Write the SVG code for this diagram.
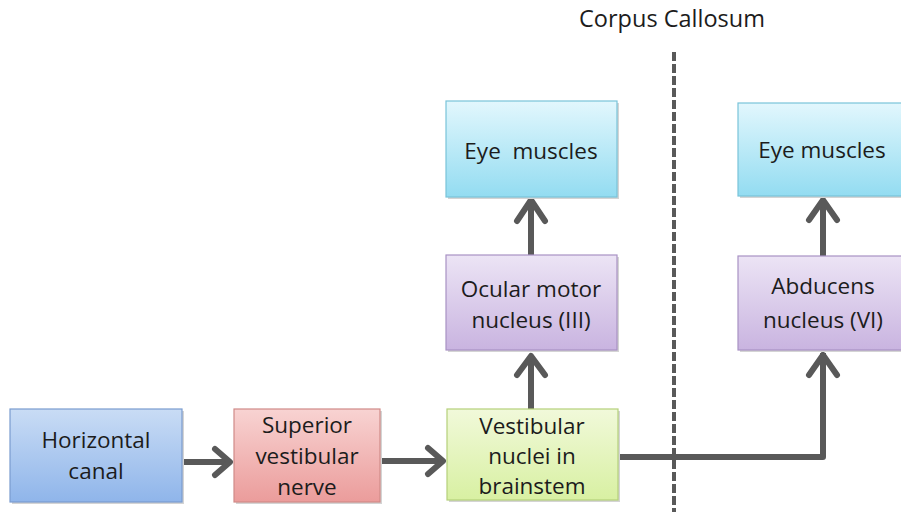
<svg xmlns="http://www.w3.org/2000/svg" width="901" height="512" viewBox="0 0 901 512">
<defs>
<linearGradient id="gBlue" x1="0" y1="0" x2="0" y2="1"><stop offset="0" stop-color="#c9dcf5"/><stop offset="1" stop-color="#8fb5ea"/></linearGradient>
<linearGradient id="gRed" x1="0" y1="0" x2="0" y2="1"><stop offset="0" stop-color="#f8d3d2"/><stop offset="1" stop-color="#eb9c9b"/></linearGradient>
<linearGradient id="gGreen" x1="0" y1="0" x2="0" y2="1"><stop offset="0" stop-color="#f1f9da"/><stop offset="1" stop-color="#d8f0a2"/></linearGradient>
<linearGradient id="gPurple" x1="0" y1="0" x2="0" y2="1"><stop offset="0" stop-color="#ece4f5"/><stop offset="1" stop-color="#c9b4e0"/></linearGradient>
<linearGradient id="gCyan" x1="0" y1="0" x2="0" y2="1"><stop offset="0" stop-color="#e2f7fd"/><stop offset="1" stop-color="#93dcf1"/></linearGradient>
</defs>
<style>
text{font-family:"Open Sans","Liberation Sans",sans-serif;font-size:22.5px;fill:#1c1c1c;text-anchor:middle}
.box{stroke-width:1.2}
.sh{fill:#d4d4d4}
.conn{fill:none;stroke:#595959;stroke-width:6;stroke-linejoin:round}
.head{fill:none;stroke:#595959;stroke-width:6;stroke-linecap:round;stroke-linejoin:round}
</style>
<rect width="901" height="512" fill="#ffffff"/>
<g id="corpus-callosum">
<text x="672" y="27" style="font-size:23.5px">Corpus Callosum</text>
<line x1="674" y1="52" x2="674" y2="512" stroke="#595959" stroke-width="4" stroke-dasharray="9 3"/>
</g>
<g id="connectors">
<path class="conn" d="M182 462 H229"/>
<path class="head" d="M215 449 L230 462 L215 475"/>
<path class="conn" d="M380 461 H442"/>
<path class="head" d="M428 448 L443 461 L428 474"/>
<path class="conn" d="M531 409 V356"/>
<path class="head" d="M517 375 L531 356 L545 375"/>
<path class="conn" d="M531 255 V199"/>
<path class="head" d="M517 221 L531 200 L545 221"/>
<path class="conn" d="M618 457 H823 V353"/>
<path class="head" d="M809 375 L823 355 L837 375"/>
<path class="conn" d="M823 256 V200"/>
<path class="head" d="M809 220 L823 200 L837 220"/>
</g>
<g id="horizontal-canal">
<rect class="sh" x="12" y="411" width="172" height="93"/>
<rect class="box" x="10" y="409" width="172" height="93" fill="url(#gBlue)" stroke="#7a9ccf"/>
<text x="96" y="448">Horizontal</text>
<text x="96" y="479">canal</text>
</g>
<g id="superior-vestibular-nerve">
<rect class="sh" x="236" y="411" width="146" height="93"/>
<rect class="box" x="234" y="409" width="146" height="93" fill="url(#gRed)" stroke="#d08a88"/>
<text x="307" y="433">Superior</text>
<text x="307" y="464">vestibular</text>
<text x="307" y="495">nerve</text>
</g>
<g id="vestibular-nuclei">
<rect class="sh" x="449" y="411" width="171" height="91"/>
<rect class="box" x="447" y="409" width="171" height="91" fill="url(#gGreen)" stroke="#b5d07a"/>
<text x="532" y="434">Vestibular</text>
<text x="532" y="464">nuclei in</text>
<text x="532" y="494">brainstem</text>
</g>
<g id="ocular-motor-nucleus">
<rect class="sh" x="448" y="257" width="171" height="95"/>
<rect class="box" x="446" y="255" width="171" height="95" fill="url(#gPurple)" stroke="#a892c4"/>
<text x="531" y="297">Ocular motor</text>
<text x="531" y="328">nucleus (III)</text>
</g>
<g id="eye-muscles-left">
<rect class="sh" x="448" y="103" width="171" height="96"/>
<rect class="box" x="446" y="101" width="171" height="96" fill="url(#gCyan)" stroke="#79c3d9"/>
<text x="531" y="159" xml:space="preserve">Eye  muscles</text>
</g>
<g id="abducens-nucleus">
<rect class="sh" x="740" y="258" width="163" height="94"/>
<rect class="box" x="738" y="256" width="170" height="94" fill="url(#gPurple)" stroke="#a892c4"/>
<text x="823" y="294">Abducens</text>
<text x="823" y="328">nucleus (VI)</text>
</g>
<g id="eye-muscles-right">
<rect class="sh" x="740" y="105" width="163" height="93"/>
<rect class="box" x="738" y="103" width="170" height="93" fill="url(#gCyan)" stroke="#79c3d9"/>
<text x="822" y="158">Eye muscles</text>
</g>
</svg>
